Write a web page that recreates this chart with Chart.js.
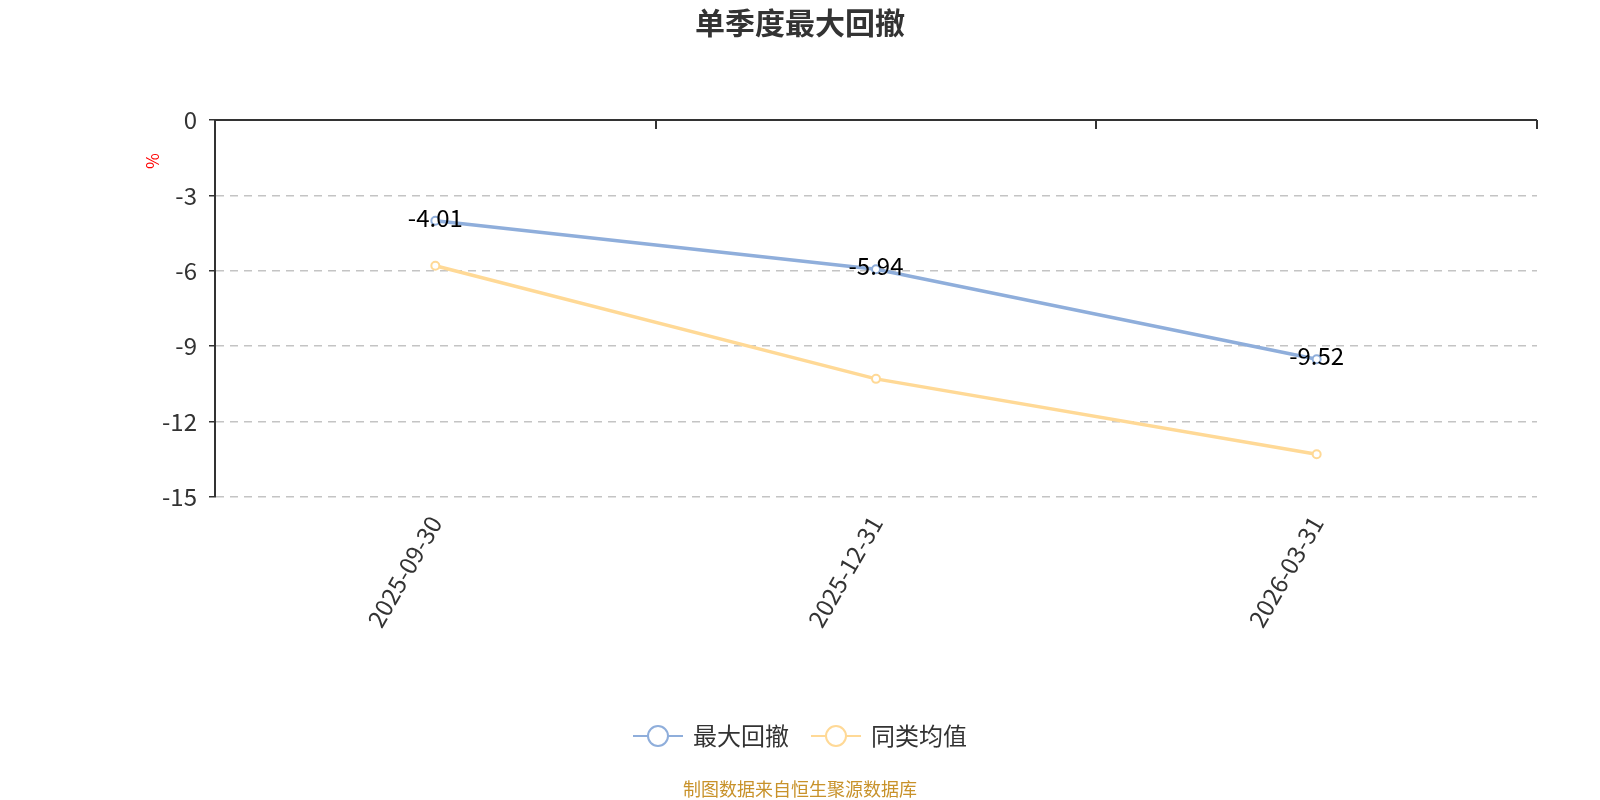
<!DOCTYPE html>
<html><head><meta charset="utf-8">
<script src="https://cdn.jsdelivr.net/npm/chart.js@4/dist/chart.umd.min.js"></script>
<style>html,body{margin:0;padding:0;background:#fff}#wrap{width:1600px;height:800px;position:relative}</style>
</head><body><div id="wrap"><canvas id="c" width="1600" height="800"></canvas></div>
<script>
const categories = ['2025-09-30', '2025-12-31', '2026-03-31'];
const maxDrawdown = [-4.01, -5.94, -9.52];
const peerAverage = [-5.8, -10.3, -13.3];
const seriesNames = ['最大回撤', '同类均值'];
const titleText = '单季度最大回撤';
const sourceText = '制图数据来自恒生聚源数据库';
const unitText = '%';

const FONT = '"Noto Sans CJK SC", "Noto Sans", sans-serif';
const BLUE = '#8FAEDB';
const ORANGE = '#FFD996';

const decor = {
  id: 'decor',
  afterDatasetsDraw(chart) {
    const ctx = chart.ctx;
    const xs = chart.scales.x, ys = chart.scales.y;
    ctx.save();
    const y0 = ys.getPixelForValue(0);
    ctx.strokeStyle = '#333';
    ctx.lineWidth = 2;
    ctx.beginPath();
    ctx.moveTo(xs.left, y0); ctx.lineTo(xs.right, y0); ctx.stroke();
    for (let i = 0; i <= categories.length; i++) {
      const px = Math.round(xs.left + (xs.right - xs.left) * i / categories.length);
      ctx.beginPath();
      ctx.moveTo(px, y0); ctx.lineTo(px, y0 + 9); ctx.stroke();
    }
    ctx.restore();
    const meta = chart.getDatasetMeta(0);
    ctx.save();
    ctx.font = '24px ' + FONT;
    ctx.fillStyle = '#000';
    ctx.textAlign = 'center';
    ctx.textBaseline = 'middle';
    meta.data.forEach((pt, i) => {
      ctx.fillText(String(maxDrawdown[i]), pt.x, pt.y - 3);
    });
    ctx.restore();
  },
  afterDraw(chart) {
    const ctx = chart.ctx;
    ctx.save();
    ctx.font = 'bold 30px ' + FONT;
    ctx.fillStyle = '#333';
    ctx.textAlign = 'center';
    ctx.textBaseline = 'middle';
    ctx.fillText(titleText, 800, 23);
    ctx.save();
    ctx.translate(152, 161);
    ctx.rotate(Math.PI / 2);
    ctx.font = '17px ' + FONT;
    ctx.fillStyle = '#FF0000';
    ctx.fillText(unitText, 0, 0);
    ctx.restore();
    const colors = [BLUE, ORANGE];
    ctx.font = '24px ' + FONT;
    ctx.textAlign = 'left';
    const iconW = 50, gap = 10, itemGap = 22;
    const widths = seriesNames.map(n => iconW + gap + ctx.measureText(n).width);
    const total = widths.reduce((a, b) => a + b, 0) + itemGap;
    let x = 800 - total / 2;
    const y = 736;
    seriesNames.forEach((n, i) => {
      ctx.strokeStyle = colors[i];
      ctx.lineWidth = 2;
      ctx.beginPath();
      ctx.moveTo(x, y); ctx.lineTo(x + iconW, y); ctx.stroke();
      ctx.beginPath();
      ctx.arc(x + iconW / 2, y, 10, 0, Math.PI * 2);
      ctx.fillStyle = '#fff';
      ctx.fill();
      ctx.stroke();
      ctx.fillStyle = '#333';
      ctx.fillText(n, x + iconW + gap, y);
      x += widths[i] + itemGap;
    });
    ctx.font = '18px ' + FONT;
    ctx.fillStyle = '#C8922A';
    ctx.textAlign = 'center';
    ctx.fillText(sourceText, 800, 789);
    ctx.restore();
  }
};

new Chart(document.getElementById('c'), {
  type: 'line',
  data: {
    labels: categories,
    datasets: [
      { label: seriesNames[0], data: maxDrawdown, borderColor: BLUE, backgroundColor: '#fff',
        borderWidth: 3.5, pointRadius: 4, pointBorderWidth: 2, pointBackgroundColor: '#fff', pointBorderColor: BLUE, tension: 0 },
      { label: seriesNames[1], data: peerAverage, borderColor: ORANGE, backgroundColor: '#fff',
        borderWidth: 3.5, pointRadius: 4, pointBorderWidth: 2, pointBackgroundColor: '#fff', pointBorderColor: ORANGE, tension: 0 }
    ]
  },
  options: {
    responsive: false,
    animation: false,
    layout: { padding: { left: 0, right: 63, top: 120, bottom: 0 } },
    plugins: { legend: { display: false }, title: { display: false }, tooltip: { enabled: false } },
    scales: {
      x: {
        position: 'bottom',
        offset: true,
        border: { display: false },
        grid: { display: false, offset: true },
        ticks: { color: '#333', font: { family: FONT, size: 24 }, minRotation: 60, maxRotation: 60, padding: 6 },
        afterFit(s) { s.height = 303; }
      },
      y: {
        min: -15, max: 0,
        border: { display: true, color: '#333', width: 2, dash: [8, 6] },
        grid: { color: (c) => c.tick.value === 0 ? 'rgba(0,0,0,0)' : '#C4C4C4', lineWidth: 1.5,
                tickColor: '#333', tickLength: 6, tickBorderDash: [] },
        ticks: { stepSize: 3, color: '#333', font: { family: FONT, size: 24 }, padding: 12 },
        afterFit(s) { s.width = 215; }
      }
    }
  },
  plugins: [decor]
});
</script>
</body></html>
